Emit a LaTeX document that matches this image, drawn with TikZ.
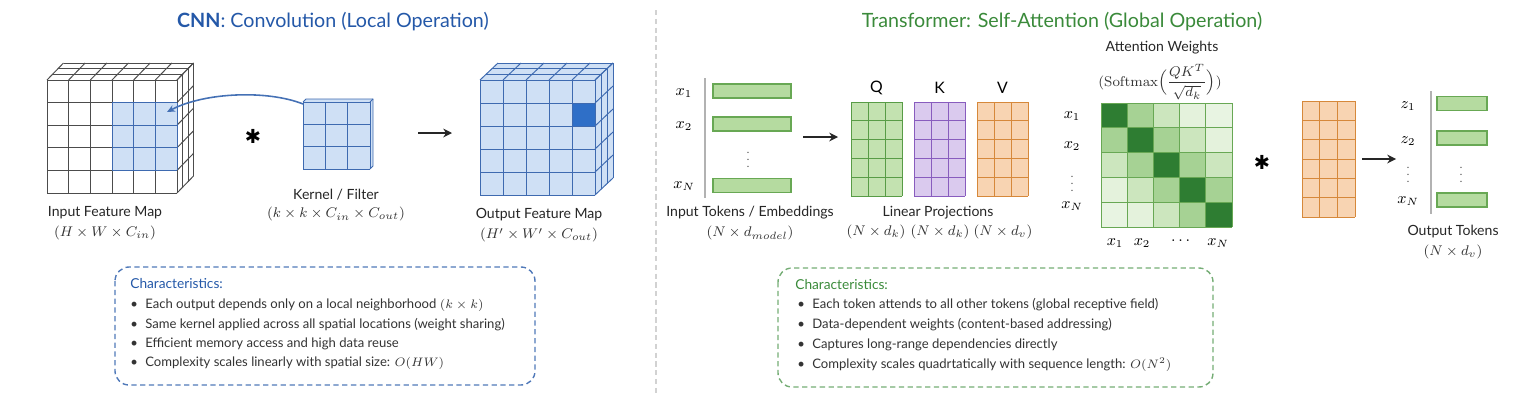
\documentclass[tikz,border=0pt]{standalone}
\usepackage[no-math]{fontspec}
\setmainfont{Lato}
\newfontfamily\opfont{DejaVu Sans}
\usepackage{amsmath}
\usetikzlibrary{positioning,arrows.meta,calc}

\definecolor{cnnblue}{RGB}{36,88,168}
\definecolor{cellblue}{RGB}{207,224,245}
\definecolor{cellline}{RGB}{62,106,176}
\definecolor{darkcell}{RGB}{47,111,199}
\definecolor{trgreen}{RGB}{58,138,58}
\definecolor{barfill}{RGB}{181,219,160}
\definecolor{barline}{RGB}{104,168,84}
\definecolor{qfill}{RGB}{195,226,176}
\definecolor{qline}{RGB}{88,156,70}
\definecolor{kfill}{RGB}{218,202,238}
\definecolor{kline}{RGB}{136,92,190}
\definecolor{vfill}{RGB}{248,212,178}
\definecolor{vline}{RGB}{214,136,58}
\definecolor{att0}{RGB}{46,125,50}
\definecolor{att1}{RGB}{166,210,148}
\definecolor{att2}{RGB}{204,230,190}
\definecolor{att3}{RGB}{228,242,220}
\definecolor{att4}{RGB}{232,244,226}
\definecolor{attline}{RGB}{104,168,84}

\begin{document}
\begin{tikzpicture}[x=0.02cm, y=-0.02cm,
    node distance=3.5pt,
    title/.style={font=\fontsize{11.2}{13}\selectfont, inner sep=0},
    lbl/.style={font=\fontsize{8}{9}\selectfont, text=black!85, inner sep=0},
    dims/.style={font=\fontsize{8}{9}\selectfont, text=black!80, inner sep=0},
    tok/.style={font=\fontsize{9}{10}\selectfont, inner sep=0},
    vdot/.style={font=\fontsize{6}{6}\selectfont, text=black!70, inner sep=0},
    mapline/.style={line width=0.55pt, draw=black!70},
    gridline/.style={line width=0.55pt},
    bar/.style={draw=barline, fill=barfill, line width=0.8pt, minimum height=0.28cm, inner sep=0},
    flow/.style={-{Stealth[length=5pt, width=5pt]}, line width=1.1pt, draw=black!85},
    opstar/.style={font=\opfont\fontsize{11}{11}\selectfont, inner sep=0},
    charbox/.style={dash pattern=on 3pt off 2pt, line width=0.8pt, rounded corners=8pt},
    charhead/.style={anchor=west, inner sep=0, font=\fontsize{7.8}{9}\selectfont},
    charitem/.style={anchor=west, inner sep=0, font=\fontsize{7.45}{9}\selectfont, text=black!80}
]
\useasboundingbox (0,0) rectangle (1533,406);

% titles and divider
\node[title, text=cnnblue] (cnntitle) at (333,22) {\textbf{CNN}: Convolution (Local Operation)};
\node[title, text=trgreen] (trtitle) at (1062,22) {Transformer: Self-Attention (Global Operation)};
\coordinate (divtop) at (656,10);
\coordinate (divbot) at (656,395);
\draw[gray!35, dash pattern=on 3pt off 2pt, line width=0.8pt] (divtop) -- (divbot);

% ---------- CNN side ----------
% input feature map
\coordinate (inmap) at (47,80);
\fill[white] (47,80) -- ++(16.5,-17) -- ++(130,0) -- ++(0,113) -- (177,193) -- (47,193) -- cycle;
\fill[cellblue] (112,102.6) rectangle (177,170.4);
\foreach \c in {0,...,6} \draw[mapline] (47+\c*21.667,80) -- (47+\c*21.667,193);
\foreach \r in {0,...,5} \draw[mapline] (47,80+\r*22.6) -- (177,80+\r*22.6);
\foreach \c in {0,...,6} \draw[mapline] (47+\c*21.667,80) -- ++(16.5,-17);
\foreach \s in {1,2,3} \draw[mapline] (47+\s*5.5,80-\s*5.667) -- ++(130,0);
\foreach \r in {0,...,5} \draw[mapline] (177,80+\r*22.6) -- ++(16.5,-17);
\foreach \s in {1,2,3} \draw[mapline] (177+\s*5.5,80-\s*5.667) -- ++(0,113);
\foreach \c in {3,...,6} \draw[gridline, cellline] (47+\c*21.667,102.6) -- (47+\c*21.667,170.4);
\foreach \r in {1,...,4} \draw[gridline, cellline] (112,80+\r*22.6) -- (177,80+\r*22.6);
\node[lbl] (inlbl) at (105,213) {Input Feature Map};
\node[dims, below=of inlbl] (indim) {$(H \times W \times C_{in})$};

\node[opstar] (convop) at (253,136) {✱};

% kernel
\coordinate (kernel) at (303,102);
\fill[cellblue] (303,102) -- ++(3,-3) -- ++(67,0) -- ++(0,67) -- (370,169) -- (303,169) -- cycle;
\foreach \c in {0,...,3} \draw[gridline, cellline] (303+\c*22.33,102) -- (303+\c*22.33,169);
\foreach \r in {0,...,3} \draw[gridline, cellline] (303,102+\r*22.33) -- (370,102+\r*22.33);
\draw[gridline, cellline] (303,102) -- ++(3,-3) -- ++(67,0) -- ++(0,67) -- (370,169);
\draw[gridline, cellline] (370,102) -- ++(3,-3);
\node[lbl] (kerlbl) at (336,195) {Kernel / Filter};
\node[dims, below=of kerlbl] (kerdim) {$(k \times k \times C_{in} \times C_{out})$};

\coordinate (slide) at (167,112);
\draw[cnnblue!85, line width=0.9pt, -{Stealth[length=4.5pt, width=4pt]}]
    (kernel) ++(0,2) .. controls (268,90) and (205,92) .. (slide);

\coordinate (conv1) at (418,133);
\coordinate (conv2) at (452,133);
\draw[flow] (conv1) -- (conv2);

% output feature map
\coordinate (outmap) at (480,80);
\fill[cellblue] (480,80) -- ++(18,-17) -- ++(115,0) -- ++(0,115) -- (595,195) -- (480,195) -- cycle;
\fill[darkcell] (572,103) rectangle (595,126);
\foreach \c in {0,...,5} \draw[gridline, cellline] (480+\c*23,80) -- (480+\c*23,195);
\foreach \r in {0,...,5} \draw[gridline, cellline] (480,80+\r*23) -- (595,80+\r*23);
\foreach \c in {0,...,5} \draw[gridline, cellline] (480+\c*23,80) -- ++(18,-17);
\foreach \s in {1,2,3} \draw[gridline, cellline] (480+\s*6,80-\s*5.667) -- ++(115,0);
\foreach \r in {0,...,5} \draw[gridline, cellline] (595,80+\r*23) -- ++(18,-17);
\foreach \s in {1,2,3} \draw[gridline, cellline] (595+\s*6,80-\s*5.667) -- ++(0,115);
\node[lbl] (outlbl) at (539,215) {Output Feature Map};
\node[dims, below=of outlbl] (outdim) {$(H' \times W' \times C_{out})$};

% characteristics (CNN)
\draw[charbox, cnnblue!80] (115,267) rectangle (535,385);
\node[charhead, text=cnnblue] (cnnhead) at (130,284) {Characteristics:};
\foreach \t [count=\i] in {{Each output depends only on a local neighborhood $(k \times k)$},
    {Same kernel applied across all spatial locations (weight sharing)},
    {Efficient memory access and high data reuse},
    {Complexity scales linearly with spatial size: $O(HW)$}}
  \node[charitem] (cnnitem\i) at (130,305+\i*19.5-19.5) {\makebox[8.5pt][l]{\textbullet}\t};

% ---------- Transformer side ----------
% input tokens
\draw[gray!60, line width=0.6pt] (705,78) -- (705,198);
\node[bar, minimum width=1.56cm] (tok1) at (752,91) {};
\node[bar, minimum width=1.56cm] (tok2) at (752,124) {};
\node[bar, minimum width=1.56cm] (tokN) at (752,185.5) {};
\node[tok] (tokx1) at (684,93) {$x_1$};
\node[tok] (tokx2) at (684,126) {$x_2$};
\node[tok] (tokxN) at (684,186) {$x_N$};
\node[vdot] (tokdots) at (748,155) {$\vdots$};
\node[lbl] (toklbl) at (750,213) {Input Tokens / Embeddings};
\node[dims, below=of toklbl] (tokdim) {$(N \times d_{model})$};

\coordinate (proj1) at (803,137);
\coordinate (proj2) at (838,137);
\draw[flow] (proj1) -- (proj2);

% Q, K, V projections
\foreach \x/\f/\l/\n in {851/qfill/qline/Q, 914/kfill/kline/K, 977/vfill/vline/V} {
  \fill[\f] (\x,102) rectangle (\x+51,196);
  \foreach \c in {0,...,3} \draw[gridline, \l] (\x+\c*17,102) -- (\x+\c*17,196);
  \foreach \r in {0,...,5} \draw[gridline, \l] (\x,102+\r*18.8) -- (\x+51,102+\r*18.8);
  \node[font=\fontsize{9}{10}\selectfont, inner sep=0] (lab\n) at (\x+25.5,88) {\n};
}
\node[lbl] (projlbl) at (938,213) {Linear Projections};
\node[dims] (qdim) at (876,232) {$(N \times d_k)$};
\node[dims] (kdim) at (940,232) {$(N \times d_k)$};
\node[dims] (vdim) at (1003,232) {$(N \times d_v)$};

% attention weights
\node[lbl] (attlbl) at (1162,48) {Attention Weights};
\node[dims] (attform) at (1160,82) {$(\mathrm{Softmax}\Big(\dfrac{QK^T}{\sqrt{d_k}}\Big))$};
\foreach \i in {0,...,4} \foreach \j in {0,...,4} {
  \pgfmathtruncatemacro\dd{abs(\i-\j)}
  \fill[fill=att\dd] (1101+\j*26.2,103+\i*24.8) rectangle ++(26.2,24.8);
}
\foreach \c in {0,...,5} \draw[gridline, attline] (1101+\c*26.2,103) -- (1101+\c*26.2,227);
\foreach \r in {0,...,5} \draw[gridline, attline] (1101,103+\r*24.8) -- (1232,103+\r*24.8);
\node[tok] (attr1) at (1072,116) {$x_1$};
\node[tok] (attr2) at (1072,146) {$x_2$};
\node[vdot] (attr3) at (1072,179) {$\vdots$};
\node[tok] (attrN) at (1072,206) {$x_N$};
\node[tok] (attc1) at (1115,243) {$x_1$};
\node[tok] (attc2) at (1142,243) {$x_2$};
\node[tok] (attc3) at (1182,241) {$\dots$};
\node[tok] (attcN) at (1218,243) {$x_N$};

\node[opstar] (attop) at (1262,162) {✱};

% values
\fill[vfill] (1302,101) rectangle (1355,217);
\foreach \c in {0,...,3} \draw[gridline, vline] (1302+\c*17.67,101) -- (1302+\c*17.67,217);
\foreach \r in {0,...,6} \draw[gridline, vline] (1302,101+\r*19.33) -- (1355,101+\r*19.33);

\coordinate (out1) at (1362,159);
\coordinate (out2) at (1396,159);
\draw[flow] (out1) -- (out2);

% output tokens
\draw[gray!60, line width=0.6pt] (1431,91) -- (1431,214);
\node[bar, minimum width=1cm] (otok1) at (1462,103.5) {};
\node[bar, minimum width=1cm] (otok2) at (1462,138) {};
\node[bar, minimum width=1cm] (otokN) at (1462,200) {};
\node[tok] (otokz1) at (1408,106) {$z_1$};
\node[tok] (otokz2) at (1408,141) {$z_2$};
\node[vdot] (otokd) at (1408,170) {$\vdots$};
\node[tok] (otokxN) at (1408,201) {$x_N$};
\node[vdot] (otokdots) at (1461,170) {$\vdots$};
\node[lbl] (otoklbl) at (1453,232) {Output Tokens};
\node[dims, below=of otoklbl] (otokdim) {$(N \times d_v)$};

% characteristics (Transformer)
\draw[charbox, trgreen!70] (778,268) rectangle (1213,387);
\node[charhead, text=trgreen] (trhead) at (795,285) {Characteristics:};
\foreach \t [count=\i] in {{Each token attends to all other tokens (global receptive field)},
    {Data-dependent weights (content-based addressing)},
    {Captures long-range dependencies directly},
    {Complexity scales quadrtatically with sequence length: $O(N^2)$}}
  \node[charitem] (tritem\i) at (797,305+\i*19.8-19.8) {\makebox[8.5pt][l]{\textbullet}\t};
\end{tikzpicture}
\end{document}
